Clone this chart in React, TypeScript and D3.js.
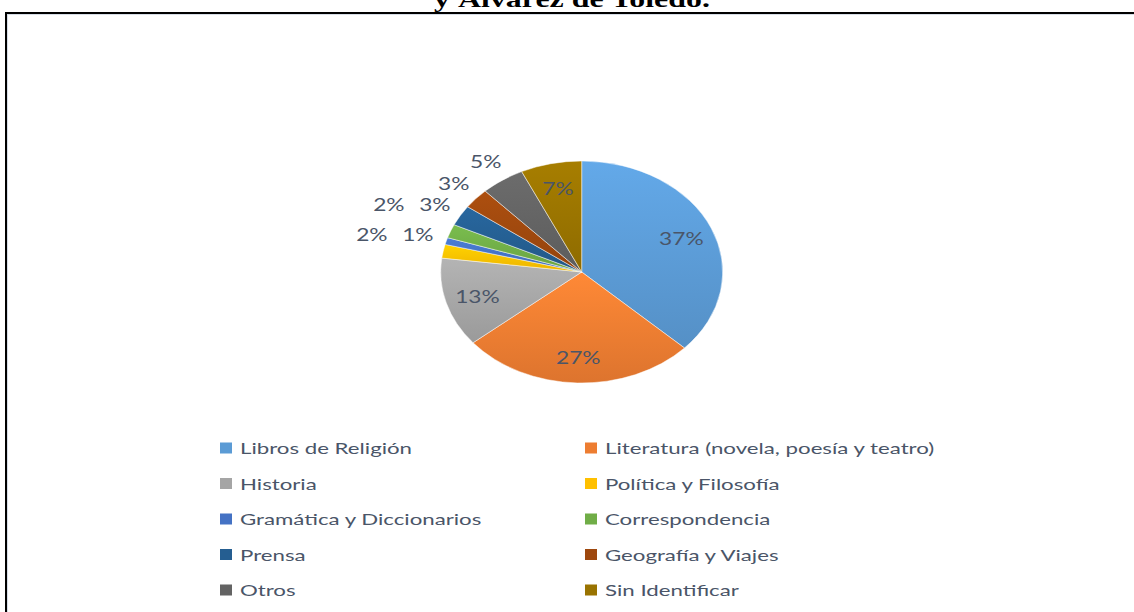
import React from "react";
import * as d3 from "d3";

const categories = [
  "Libros de Religión",
  "Literatura (novela, poesía y teatro)",
  "Historia",
  "Política y Filosofía",
  "Gramática y Diccionarios",
  "Correspondencia",
  "Prensa",
  "Geografía y Viajes",
  "Otros",
  "Sin Identificar",
];
const values = [37, 27, 13, 2, 1, 2, 3, 3, 5, 7];
const colors = [
  "#5B9BD5",
  "#ED7D31",
  "#A5A5A5",
  "#FFC000",
  "#4472C4",
  "#70AD47",
  "#255E91",
  "#9E480E",
  "#636363",
  "#997300",
];
const titleText = "y Álvarez de Toledo.";

const W = 1134;
const H = 612;
const FONT = "Lato, 'Open Sans', sans-serif";
const TEXT_COLOR = "#4a5568";
const LEG_SX = 1.39; // horizontal stretch of legend text
const LAB_SX = 1.3; // horizontal stretch of data labels
const TITLE_SX = 1.33;

export default function App() {
  const cx = 581.7;
  const cy = 272;
  const rx = 141;
  const ry = 111;
  const ky = ry / rx;
  const total = d3.sum(values);

  const arcs = d3
    .pie<number>()
    .sort(null)
    .value((d) => d)(values);
  const arcGen = d3.arc<d3.PieArcDatum<number>>().innerRadius(0).outerRadius(rx);

  type Lab = { x: number; y: number; text: string; inside: boolean; i: number };
  const labs: Lab[] = arcs.map((a, i) => {
    const mid = (a.startAngle + a.endAngle) / 2;
    const inside = values[i] >= 7;
    const r = inside ? 0.77 * rx : 1.21 * rx;
    return {
      x: cx + Math.sin(mid) * r,
      y: cy - Math.cos(mid) * r * ky,
      text: `${Math.round((values[i] / total) * 100)}%`,
      inside,
      i,
    };
  });
  // simple collision avoidance for outside labels
  const bw = 28;
  const bh = 19.5;
  const placed: Lab[] = [];
  const outside = labs.filter((l) => !l.inside).sort((a, b) => b.i - a.i);
  outside.forEach((l) => {
    let guard = 0;
    let hit = placed.find((q) => Math.abs(q.x - l.x) < bw && Math.abs(q.y - l.y) < bh);
    while (hit && guard < 10) {
      l.x = hit.x - (bw + 18);
      l.y = hit.y;
      hit = placed.find((q) => Math.abs(q.x - l.x) < bw && Math.abs(q.y - l.y) < bh);
      guard++;
    }
    placed.push(l);
  });

  const rowY = d3.scalePoint<number>().domain(d3.range(5)).range([448, 590]);
  const colX = d3.scalePoint<number>().domain([0, 1]).range([220, 585]);

  return (
    <svg
      width={W}
      height={H}
      viewBox={`0 0 ${W} ${H}`}
      style={{ position: "absolute", left: 0, top: 0, background: "#fff" }}
    >
      <defs>
        {colors.map((c, i) => {
          const base = d3.color(c)!;
          return (
            <linearGradient id={`g${i}`} key={i} x1="0" y1="0" x2="0" y2="1">
              <stop offset="0" stopColor={d3.color(c)!.brighter(0.25).formatHex()} />
              <stop offset="1" stopColor={base.darker(0.2).formatHex()} />
            </linearGradient>
          );
        })}
      </defs>
      <rect x={0} y={0} width={W} height={H} fill="#fff" />
      <text
        transform={`translate(572,7) scale(${TITLE_SX},1)`}
        textAnchor="middle"
        fontFamily="'Liberation Serif', 'Times New Roman', serif"
        fontWeight="bold"
        fontSize={24}
        fill="#000"
      >
        {titleText}
      </text>
      <line x1={5} y1={13} x2={W} y2={13} stroke="#000" strokeWidth={2} />
      <line x1={6} y1={12} x2={6} y2={H} stroke="#000" strokeWidth={2} />
      <line x1={7} y1={14.5} x2={W} y2={14.5} stroke="#d6dde6" strokeWidth={1} />
      <line x1={7.5} y1={14} x2={7.5} y2={H} stroke="#d6dde6" strokeWidth={1} />

      <g transform={`translate(${cx},${cy}) scale(1,${ky})`}>
        {arcs.map((a, i) => (
          <path
            key={i}
            d={arcGen(a) || ""}
            fill={`url(#g${i})`}
            stroke="#ffffff"
            strokeOpacity={0.6}
            strokeWidth={0.8}
            vectorEffect="non-scaling-stroke"
          />
        ))}
      </g>
      {labs.map((l, i) => (
        <text
          key={i}
          transform={`translate(${l.x},${l.y}) scale(${LAB_SX},1)`}
          textAnchor="middle"
          dominantBaseline="central"
          fontFamily={FONT}
          fontSize={17.5}
          fill={TEXT_COLOR}
        >
          {l.text}
        </text>
      ))}

      {categories.map((c, i) => {
        const x = colX(i % 2)!;
        const y = rowY(Math.floor(i / 2))!;
        return (
          <g key={c}>
            <rect x={x} y={y - 5.5} width={12} height={11} fill={colors[i]} />
            <text
              transform={`translate(${x + 20},${y}) scale(${LEG_SX},1)`}
              dominantBaseline="central"
              fontFamily={FONT}
              fontSize={16}
              fill={TEXT_COLOR}
            >
              {c}
            </text>
          </g>
        );
      })}
    </svg>
  );
}
